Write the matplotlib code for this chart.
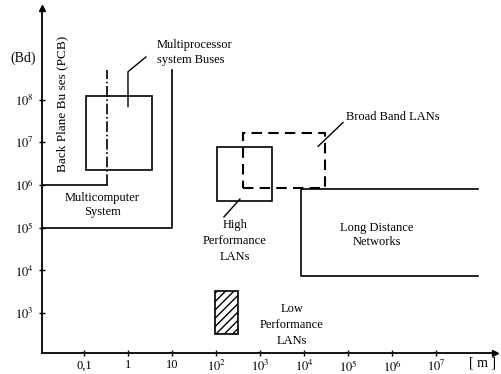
import numpy as np
import matplotlib.pyplot as plt
from matplotlib.patches import Rectangle

plt.rcParams['font.family'] = ['Liberation Serif', 'DejaVu Serif']
plt.rcParams['mathtext.fontset'] = 'stix'

# axis ranges (distance in m, rate in Bd)
x_lim = [0.0111, 2.2e8]
y_lim = [117, 1.4e10]

x_ticks = [0.1, 1, 10, 1e2, 1e3, 1e4, 1e5, 1e6, 1e7]
x_labels = ["0,1", "1", "10", r"$10^2$", r"$10^3$", r"$10^4$", r"$10^5$", r"$10^6$", r"$10^7$"]
y_ticks = [1e3, 1e4, 1e5, 1e6, 1e7, 1e8]
y_labels = [r"$10^3$", r"$10^4$", r"$10^5$", r"$10^6$", r"$10^7$", r"$10^8$"]

# regions: [x_min, x_max], [y_min, y_max]
bus_x, bus_y = [0.11, 3.5], [2.2e6, 1.2e8]
hp_lan_x, hp_lan_y = [105, 1880], [4.3e5, 8e6]
bb_lan_x, bb_lan_y = [410, 30000], [8.5e5, 1.7e7]
ld_net_x, ld_net_y = [8500, 9e7], [7.6e3, 8e5]
lp_lan_x, lp_lan_y = [95, 316], [330, 3400]

# open boundaries
backplane_x, backplane_top, backplane_rate = 0.34, 5e8, 1e6
multicomp_x, multicomp_top, multicomp_rate = 10, 5e8, 1e5

# leader lines
bus_lead_x, bus_lead_y = [1, 1, 2.56], [6.9e7, 4.5e8, 1e9]
hp_lead_x, hp_lead_y = [152, 350], [1.8e5, 4.7e5]
bb_lead_x, bb_lead_y = [2.1e4, 7.7e4], [8.1e6, 2.9e7]

fig = plt.figure(figsize=(5.02, 3.74), dpi=100)
ax = fig.add_axes([42/502, 21/374, 453/502, 345/374])
ax.set_xscale('log')
ax.set_yscale('log')
ax.set_xlim(x_lim)
ax.set_ylim(y_lim)

for s in ['top', 'right']:
    ax.spines[s].set_visible(False)
for s in ['left', 'bottom']:
    ax.spines[s].set_linewidth(1.3)
ax.plot(1, 0, '>k', ms=5, transform=ax.transAxes, clip_on=False)
ax.plot(0, 1, '^k', ms=5, transform=ax.transAxes, clip_on=False)

ax.set_xticks(x_ticks)
ax.set_xticklabels(x_labels, fontsize=9)
ax.set_yticks(y_ticks)
ax.set_yticklabels(y_labels, fontsize=9)
ax.minorticks_off()
ax.tick_params(direction='inout', length=5, width=1)
ax.tick_params(axis='x', pad=2)

lw = 1.2
# Multiprocessor system buses
ax.add_patch(Rectangle((bus_x[0], bus_y[0]), bus_x[1]-bus_x[0], bus_y[1]-bus_y[0],
                       fill=False, lw=lw, ec='k'))
# Back plane busses (dash-dot)
ax.plot([x_lim[0], backplane_x], [backplane_rate, backplane_rate], color='k', lw=lw)
ax.plot([backplane_x, backplane_x], [backplane_rate, backplane_top], color='k', lw=lw, ls='-.')
# Multicomputer system
ax.plot([x_lim[0], multicomp_x, multicomp_x], [multicomp_rate, multicomp_rate, multicomp_top],
        color='k', lw=lw)
# High performance LANs
ax.add_patch(Rectangle((hp_lan_x[0], hp_lan_y[0]), hp_lan_x[1]-hp_lan_x[0], hp_lan_y[1]-hp_lan_y[0],
                       fill=False, lw=lw, ec='k'))
# Broad band LANs (dashed)
ax.add_patch(Rectangle((bb_lan_x[0], bb_lan_y[0]), bb_lan_x[1]-bb_lan_x[0], bb_lan_y[1]-bb_lan_y[0],
                       fill=False, lw=1.5, ec='k', ls=(0, (5, 3))))
# Long distance networks (open to the right)
ax.plot([ld_net_x[1], ld_net_x[0], ld_net_x[0], ld_net_x[1]],
        [ld_net_y[1], ld_net_y[1], ld_net_y[0], ld_net_y[0]], color='k', lw=lw)
# Low performance LANs (hatched)
ax.add_patch(Rectangle((lp_lan_x[0], lp_lan_y[0]), lp_lan_x[1]-lp_lan_x[0], lp_lan_y[1]-lp_lan_y[0],
                       fill=False, lw=lw, ec='k', hatch='////'))

# leaders
for lx, ly in [(bus_lead_x, bus_lead_y), (hp_lead_x, hp_lead_y), (bb_lead_x, bb_lead_y)]:
    ax.plot(lx, ly, color='k', lw=1)

fs = 9
ax.text(0.032, 8e7, "Back Plane Bu ses (PCB)", rotation=90, ha='center', va='center', fontsize=9.5)
ax.text(4.6, 1.25e9, "Multiprocessor\nsystem Buses", ha='left', va='center', fontsize=fs,
        linespacing=1.35)
ax.text(0.26, 3.4e5, "Multicomputer\nSystem", ha='center', va='center', fontsize=fs, linespacing=1.2)
ax.text(270, 5e4, "High\nPerformance\nLANs", ha='center', va='center', fontsize=fs, linespacing=1.45)
ax.text(9e4, 4e7, "Broad Band LANs", ha='left', va='center', fontsize=fs)
ax.text(4.5e5, 6.9e4, "Long Distance\nNetworks", ha='center', va='center', fontsize=fs, linespacing=1.2)
ax.text(5300, 525, "Low\nPerformance\nLANs", ha='center', va='center', fontsize=fs, linespacing=1.45)

fig.text(23/502, 1 - 58/374, "(Bd)", ha='center', va='center', fontsize=10)
fig.text(483/502, 1 - 363/374, "[ m ]", ha='center', va='center', fontsize=10)

fig.savefig("out.png", dpi=100)
